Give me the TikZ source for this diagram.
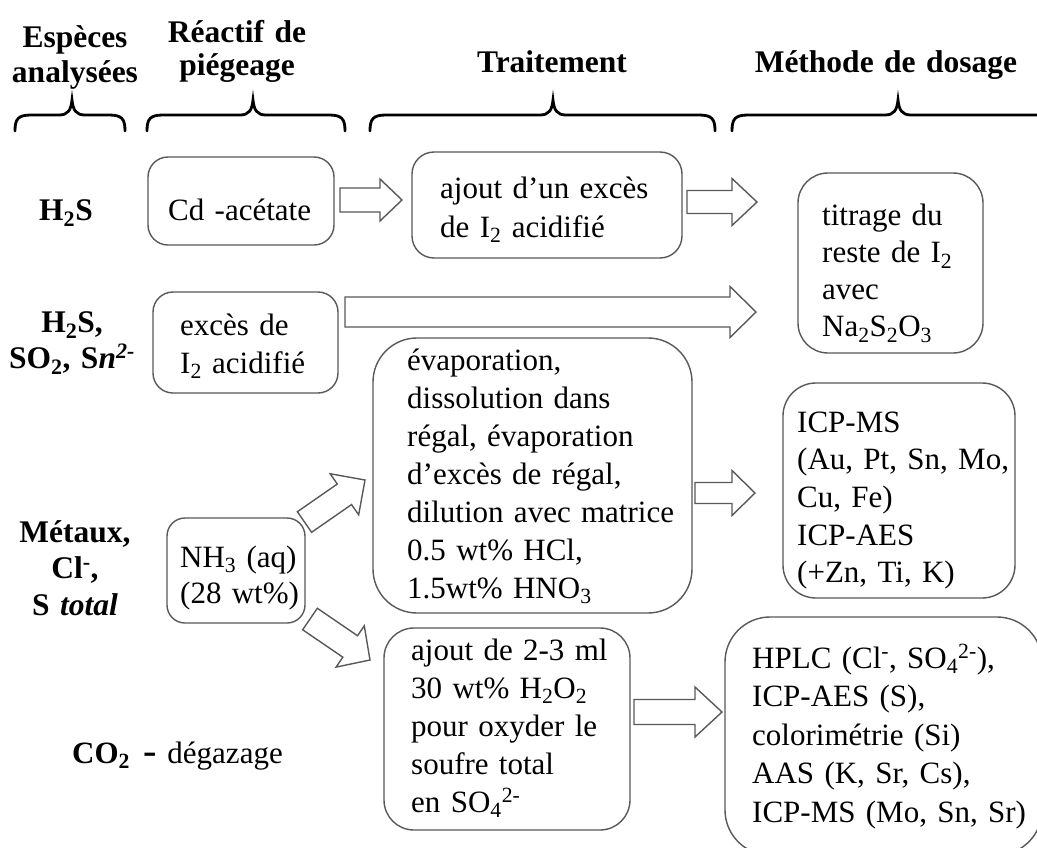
\documentclass[tikz,border=0pt]{standalone}
\usepackage{fontspec}
\setmainfont{Liberation Serif}
\usetikzlibrary{calc}
\definecolor{boxgray}{HTML}{595959}
\tikzset{
  box/.style={draw=boxgray, line width=1.4pt, rectangle, anchor=north west, inner sep=0pt, outer sep=0pt},
  txt/.style={font=\fontsize{31}{38}\selectfont, inner sep=0pt, anchor=base west, align=left, text width=#1},
  txt/.default=300pt,
  hdr/.style={font=\fontsize{31.5}{35}\selectfont\bfseries, inner sep=0pt, anchor=base, align=center, text width=#1},
  hdr/.default=200pt,
  barr/.style={draw=boxgray, fill=white, line width=1.4pt, line join=miter},
  brc/.style={draw=black, line width=2.8pt, line cap=round},
}
\newcommand{\bkarrow}[5]{\draw[barr] let \p1=(#1), \p2=(#2), \n1={atan2(\y2-\y1,\x2-\x1)}, \n2={veclen(\x2-\x1,\y2-\y1)} in
  ($(\p1)+(\n1+90:#3)$) -- ($(\p1)+(\n1:\n2-#5)+(\n1+90:#3)$) -- ($(\p1)+(\n1:\n2-#5)+(\n1+90:#4)$) -- (\p2)
  -- ($(\p1)+(\n1:\n2-#5)+(\n1-90:#4)$) -- ($(\p1)+(\n1:\n2-#5)+(\n1-90:#3)$) -- ($(\p1)+(\n1-90:#3)$) -- cycle;}
\newcommand{\hbr}[3]{\draw[brc] (#1,131) .. controls (#1,119) and (#1+3,115) .. (#1+16,115) -- (#2-13,115)
  .. controls (#2-4,115) and (#2-1,110) .. (#2,100) .. controls (#2+1,110) and (#2+4,115) .. (#2+13,115)
  -- (#3-16,115) .. controls (#3-3,115) and (#3,119) .. (#3,131);}
\begin{document}
\begin{tikzpicture}[x=1pt,y=-1pt]
\useasboundingbox (0,0) rectangle (1037,847);
\fill[white] (0,0) rectangle (1037,847);
\clip (0,0) rectangle (1037,847);

% headers
\node[hdr=150pt] (hEsp) at (75,47) {Espèces\\analysées};
\node[hdr=200pt, font=\fontsize{31.5}{33.5}\selectfont\bfseries] (hRea) at (237,42) {Réactif de\\piégeage};
\node[hdr=250pt] (hTra) at (552,72) {Traitement};
\node[hdr=300pt] (hMet) at (886,72) {Méthode de dosage};

% braces
\hbr{15}{72}{125}
\hbr{147}{253}{345}
\hbr{370}{553}{715}
\hbr{732}{898}{1062}

% row labels
\node[hdr=120pt] (rH2S) at (66,220) {H\textsubscript{2}S};
\node[hdr=150pt, font=\fontsize{31.5}{36}\selectfont\bfseries] (rSO2) at (72,332) {H\textsubscript{2}S,\\SO\textsubscript{2}, S\textit{n}\textsuperscript{\textit{2-}}};
\node[hdr=150pt, font=\fontsize{31.5}{36.5}\selectfont\bfseries] (rMet) at (75,542) {Métaux,\\Cl\textsuperscript{-},\\S \textit{total}};
\node[txt=300pt] (rCO2) at (72,763) {\textbf{CO\textsubscript{2}}\hspace{13pt}\textbf{\scalebox{1.3}[1.2]{-}}\hspace{11pt}dégazage};

% boxes
\node[box, minimum width=186pt, minimum height=88pt, rounded corners=20pt] (cd) at (148,157) {};
\node[box, minimum width=270pt, minimum height=106pt, rounded corners=22pt] (ajoutA) at (412,152) {};
\node[box, minimum width=185pt, minimum height=180pt, rounded corners=30pt] (titr) at (798,173) {};
\node[box, minimum width=185pt, minimum height=101pt, rounded corners=20pt] (exces) at (153,292) {};
\node[box, minimum width=319pt, minimum height=275pt, rounded corners=44pt] (evap) at (373,338) {};
\node[box, minimum width=232pt, minimum height=215pt, rounded corners=33pt] (icp) at (783,383) {};
\node[box, minimum width=138pt, minimum height=105pt, rounded corners=18pt] (nh) at (167,518) {};
\node[box, minimum width=246pt, minimum height=202pt, rounded corners=30pt] (ajoutB) at (384,628) {};
\node[box, minimum width=317pt, minimum height=238pt, rounded corners=45pt] (hplc) at (725,617) {};

% box texts
\node[txt=200pt] (cdT) at (168,220) {Cd -acétate};
\node[txt=260pt, font=\fontsize{31}{39}\selectfont] (ajoutAT) at (440,198) {ajout d’un excès\\de I\textsubscript{2} acidifié};
\node[txt=170pt, font=\fontsize{31}{37.3}\selectfont] (titrT) at (822,225) {titrage du\\reste de I\textsubscript{2}\\avec\\Na\textsubscript{2}S\textsubscript{2}O\textsubscript{3}};
\node[txt=170pt] (excesT) at (180,335) {excès de\\I\textsubscript{2} acidifié};
\node[txt=300pt] (evapT) at (407,370) {évaporation,\\dissolution dans\\régal, évaporation\\d’excès de régal,\\dilution avec matrice\\0.5 wt\% HCl,\\1.5wt\% HNO\textsubscript{3}};
\node[txt=220pt, font=\fontsize{31}{37.7}\selectfont] (icpT) at (797,432) {ICP-MS\\(Au, Pt, Sn, Mo,\\Cu, Fe)\\ICP-AES\\(+Zn, Ti, K)};
\node[txt=140pt, font=\fontsize{31}{36}\selectfont] (nhT) at (180,567) {NH\textsubscript{3} (aq)\\(28 wt\%)};
\node[txt=240pt] (ajoutBT) at (411,660) {ajout de 2-3 ml\\30 wt\% H\textsubscript{2}O\textsubscript{2}\\pour oxyder le\\soufre total\\en SO\textsubscript{4}\textsuperscript{2-}};
\node[txt=290pt, font=\fontsize{31}{38.5}\selectfont] (hplcT) at (752,668) {HPLC (Cl\textsuperscript{-}, SO\textsubscript{4}\textsuperscript{2-}),\\ICP-AES (S),\\colorimétrie (Si)\\AAS (K, Sr, Cs),\\ICP-MS (Mo, Sn, Sr)};

% block arrows
\bkarrow{$(cd.east)+(6,-1)$}{$(ajoutA.west)+(-10,-5)$}{12pt}{21pt}{22pt}
\bkarrow{$(ajoutA.east)+(5,-3)$}{$(titr.west)+(-41,-61)$}{11.5pt}{23.5pt}{25pt}
\bkarrow{$(exces.east)+(7,-30.5)$}{$(titr.west)+(-42,49)$}{15pt}{25.5pt}{26pt}
\bkarrow{$(evap.east)+(3,17.5)$}{$(icp.west)+(-28,2.5)$}{10.5pt}{22.5pt}{23pt}
\bkarrow{$(ajoutB.east)+(4,-17)$}{$(hplc.west)+(-3,-24)$}{12.5pt}{25pt}{27pt}
\bkarrow{$(nh.north east)+(-0.5,4)$}{$(evap.west)+(-8,4.5)$}{12.5pt}{25pt}{25pt}
\bkarrow{$(nh.south east)+(5,-4)$}{$(ajoutB.west)+(-14,-69)$}{13pt}{25pt}{24pt}
\end{tikzpicture}
\end{document}
